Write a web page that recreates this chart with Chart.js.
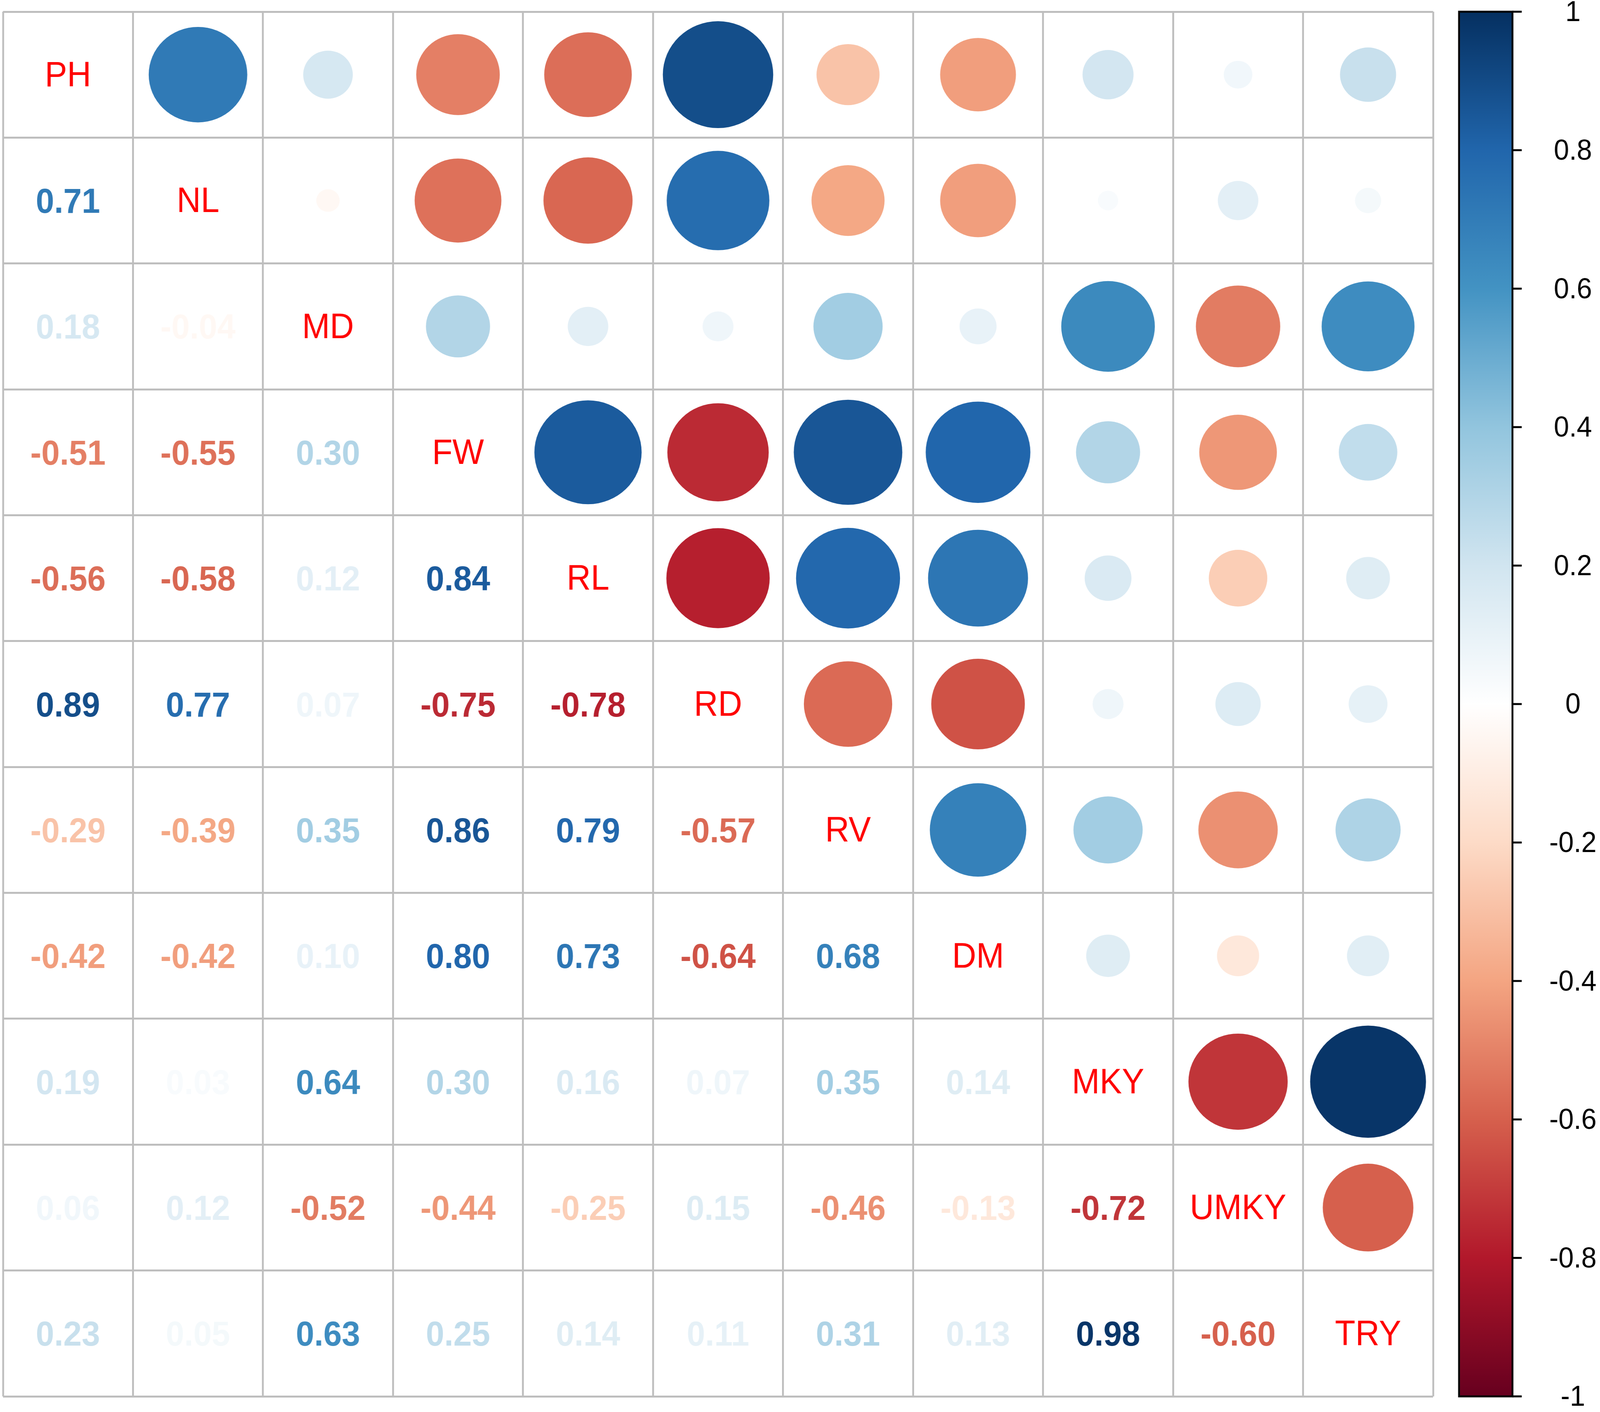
<!DOCTYPE html>
<html>
<head>
<meta charset="utf-8">
<title>Correlation matrix</title>
<script src="https://cdn.jsdelivr.net/npm/chart.js@4.4.1/dist/chart.umd.min.js"></script>
<style>
  html, body { margin: 0; padding: 0; background: #fff; overflow: hidden; }
  /* the window may be narrower than 4313px: the 4313x3616 drawing is fitted to it */
  #wrap { width: 100vw; height: 3616px; }
  #corrChart { width: 100%; height: 100%; }
</style>
</head>
<body>
<div id="wrap"><canvas id="corrChart" width="4313" height="3616" style="width:100%;height:100%"></canvas></div>
<script>
// variables (row / column order)
const variables = ['PH', 'NL', 'MD', 'FW', 'RL', 'RD', 'RV', 'DM', 'MKY', 'UMKY', 'TRY'];

// lower triangle, one row per variable
const rowNL   = [0.71];
const rowMD   = [0.18, -0.04];
const rowFW   = [-0.51, -0.55, 0.30];
const rowRL   = [-0.56, -0.58, 0.12, 0.84];
const rowRD   = [0.89, 0.77, 0.07, -0.75, -0.78];
const rowRV   = [-0.29, -0.39, 0.35, 0.86, 0.79, -0.57];
const rowDM   = [-0.42, -0.42, 0.10, 0.80, 0.73, -0.64, 0.68];
const rowMKY  = [0.19, 0.03, 0.64, 0.30, 0.16, 0.07, 0.35, 0.14];
const rowUMKY = [0.06, 0.12, -0.52, -0.44, -0.25, 0.15, -0.46, -0.13, -0.72];
const rowTRY  = [0.23, 0.05, 0.63, 0.25, 0.14, 0.11, 0.31, 0.13, 0.98, -0.60];

// colour legend ticks
const legendTicks = [1, 0.8, 0.6, 0.4, 0.2, 0, -0.2, -0.4, -0.6, -0.8, -1];

// RdBu palette, from -1 to 1
const palette = ['#67001F', '#B2182B', '#D6604D', '#F4A582', '#FDDBC7', '#FFFFFF',
                 '#D1E5F0', '#92C5DE', '#4393C3', '#2166AC', '#053061'];

const lowerRows = [[], rowNL, rowMD, rowFW, rowRL, rowRD, rowRV, rowDM, rowMKY, rowUMKY, rowTRY];

function corrColor(v) {
    const t = (v + 1) / 2 * (palette.length - 1);
    const i = Math.min(Math.floor(t), palette.length - 2);
    const f = t - i;
    const a = palette[i], b = palette[i + 1];
    const ch = k => {
        const ca = parseInt(a.substr(1 + 2 * k, 2), 16);
        const cb = parseInt(b.substr(1 + 2 * k, 2), 16);
        return Math.round(ca + (cb - ca) * f);
    };
    return `rgb(${ch(0)},${ch(1)},${ch(2)})`;
}

// points for each part of the matrix
const circlePoints = [];
const numberPoints = [];
const labelPoints = [];
variables.forEach((name, i) => {
    labelPoints.push({ x: i + 1, y: i + 1, label: name });
    lowerRows[i].forEach((v, j) => {
        numberPoints.push({ x: j + 1, y: i + 1, v: v });
        circlePoints.push({ x: i + 1, y: j + 1, v: v });
    });
});

const cellEdges = [];
for (let k = 0; k <= variables.length; k++) cellEdges.push(k + 0.5);

const FONT = '"Liberation Sans", Arial, sans-serif';

// circles, numbers and labels drawn at the points' positions
const cellPlugin = {
    id: 'corrCells',
    afterDatasetsDraw(chart) {
        const { ctx, scales: { x, y } } = chart;
        const cw = Math.abs(x.getPixelForValue(1) - x.getPixelForValue(0));
        const ch = Math.abs(y.getPixelForValue(1) - y.getPixelForValue(0));
        ctx.save();

        chart.getDatasetMeta(0).data.forEach((pt, i) => {
            const v = circlePoints[i].v;
            const s = 0.45 * Math.sqrt(Math.abs(v));
            ctx.fillStyle = corrColor(v);
            ctx.beginPath();
            ctx.ellipse(pt.x, pt.y, s * cw, s * ch, 0, 0, 2 * Math.PI);
            ctx.fill();
        });

        ctx.textAlign = 'center';
        ctx.textBaseline = 'middle';
        ctx.font = `bold 89px ${FONT}`;
        chart.getDatasetMeta(1).data.forEach((pt, i) => {
            const v = numberPoints[i].v;
            ctx.fillStyle = corrColor(v);
            ctx.fillText(v.toFixed(2), pt.x, pt.y + 7);
        });

        ctx.font = `90px ${FONT}`;
        ctx.fillStyle = '#FF0000';
        chart.getDatasetMeta(2).data.forEach((pt, i) => {
            ctx.fillText(labelPoints[i].label, pt.x, pt.y + 5);
        });
        ctx.restore();
    },
    afterDraw(chart) {
        // colour legend on the cb scale
        const { ctx } = chart;
        const cb = chart.scales.cb;
        const top = cb.getPixelForValue(1);
        const bottom = cb.getPixelForValue(-1);
        const left = cb.left + 70;
        const right = cb.left + 214;
        const grad = ctx.createLinearGradient(0, bottom, 0, top);
        palette.forEach((c, k) => grad.addColorStop(k / (palette.length - 1), c));
        ctx.save();
        ctx.fillStyle = grad;
        ctx.fillRect(left, top, right - left, bottom - top);
        ctx.strokeStyle = '#000';
        ctx.lineWidth = 5;
        ctx.strokeRect(left, top, right - left, bottom - top);
        ctx.fillStyle = '#000';
        ctx.font = `74px ${FONT}`;
        ctx.textAlign = 'center';
        ctx.textBaseline = 'middle';
        cb.ticks.forEach(t => {
            const py = cb.getPixelForValue(t.value);
            ctx.beginPath();
            ctx.moveTo(right, py);
            ctx.lineTo(right + 25, py);
            ctx.stroke();
            ctx.fillText(String(t.value), cb.left + 377, py + 4);
        });
        ctx.restore();
    }
};

const gridOpts = { color: '#BEBEBE', lineWidth: 5, drawTicks: false };

new Chart(document.getElementById('corrChart'), {
    type: 'scatter',
    data: {
        datasets: [
            { data: circlePoints, pointRadius: 0 },
            { data: numberPoints, pointRadius: 0 },
            { data: labelPoints, pointRadius: 0 }
        ]
    },
    options: {
        responsive: false,
        devicePixelRatio: 1,
        animation: false,
        events: [],
        layout: { padding: { left: 8, top: 30, right: 0, bottom: 40 } },
        plugins: { legend: { display: false }, tooltip: { enabled: false } },
        scales: {
            x: {
                type: 'linear', min: 0.5, max: 11.5,
                afterBuildTicks: s => { s.ticks = cellEdges.map(v => ({ value: v })); },
                ticks: { display: false },
                grid: gridOpts,
                border: { display: false }
            },
            y: {
                type: 'linear', min: 0.5, max: 11.5, reverse: true,
                afterBuildTicks: s => { s.ticks = cellEdges.map(v => ({ value: v })); },
                ticks: { display: false },
                grid: gridOpts,
                border: { display: false }
            },
            cb: {
                type: 'linear', position: 'right', min: -1, max: 1,
                afterBuildTicks: s => { s.ticks = legendTicks.map(v => ({ value: v })); },
                afterFit: s => { s.width = 450; },
                ticks: { display: false },
                grid: { display: false, drawTicks: false },
                border: { display: false }
            }
        }
    },
    plugins: [cellPlugin]
});
</script>
</body>
</html>
